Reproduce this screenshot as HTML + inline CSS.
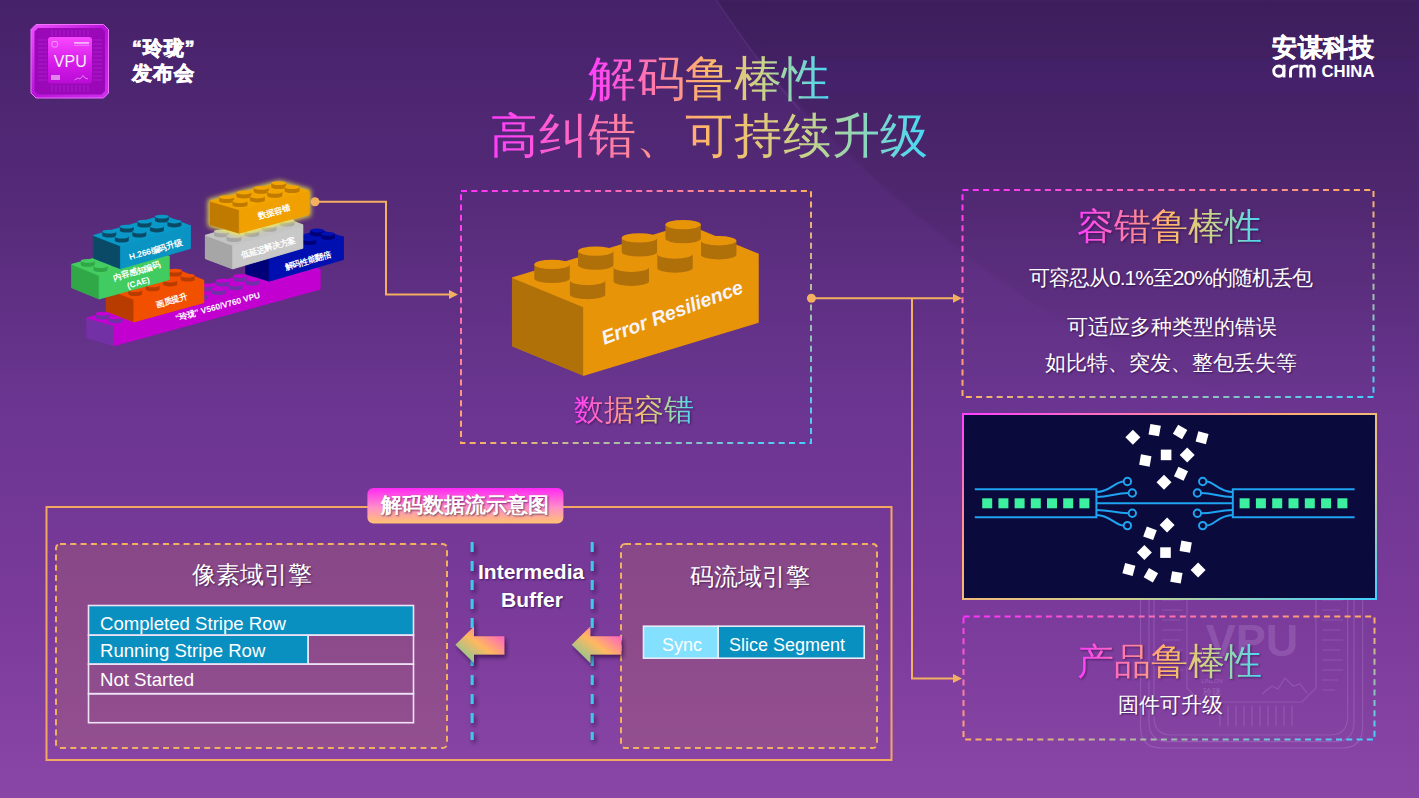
<!DOCTYPE html>
<html><head><meta charset="utf-8">
<style>
*{margin:0;padding:0;box-sizing:border-box}
html,body{width:1419px;height:798px;overflow:hidden}
body{font-family:"Liberation Sans",sans-serif;position:relative;background:linear-gradient(180deg,#46226a 0%,#552a78 25%,#6a3590 50%,#7a3a9a 75%,#8a46a6 100%);color:#fff}
.abs{position:absolute}
.grad{background:linear-gradient(90deg,#ff3cff 0%,#ff80a0 30%,#ffb868 50%,#c8d488 72%,#44d8f8 100%);-webkit-background-clip:text;background-clip:text;color:transparent}
.t{white-space:nowrap;line-height:1}
.sh{text-shadow:1px 1px 2px rgba(30,0,50,.6)}
.gs{filter:drop-shadow(1px 1px 1px rgba(30,0,50,.5))}
</style></head>
<body>
<!-- bg shading -->
<svg class="abs" style="left:0;top:0" width="1419" height="798">
<defs>
<linearGradient id="dk" gradientUnits="userSpaceOnUse" x1="0" y1="0" x2="0" y2="420"><stop offset="0" stop-color="#100020" stop-opacity="0.13"/><stop offset="1" stop-color="#100020" stop-opacity="0"/></linearGradient>
<filter id="bb"><feGaussianBlur stdDeviation="1.5"/></filter>
</defs>
<path d="M716,0 C760,70 850,170 1000,280 C1150,390 1300,420 1419,420 V0 Z" fill="url(#dk)" filter="url(#bb)"/>
<path d="M716,0 C740,35 760,65 800,110" fill="none" stroke="#b080d0" stroke-opacity="0.1" stroke-width="2"/>
</svg>
<!-- faint watermark -->
<svg class="abs" style="left:0;top:0" width="1419" height="798">
<g fill="none" stroke="#d8b8f0" stroke-opacity="0.2" stroke-width="1.2">
<path d="M1140.5,560 V727 Q1140.5,748 1161.5,748 H1341.6 Q1362.6,748 1362.6,727 V560"/>
<path d="M1149,560 V722 Q1149,741.6 1168.6,741.6 H1334.4 Q1354,741.6 1354,722 V560"/>
<path d="M1154,560 V717 Q1154,735 1172,735 H1329.6 Q1347.6,735 1347.6,717 V560"/>
<path d="M1187,560 V688 L1201,702 H1302 L1316,688 V560"/>
<path d="M1162,600 H1183 M1162,610 H1183 M1162,620 H1180 M1162,630 H1183 M1162,640 H1180 M1162,650 H1183 M1162,660 H1180 M1162,670 H1183"/>
<path d="M1322,600 H1343 M1322,610 H1340 M1322,620 H1343 M1322,630 H1340 M1322,640 H1343 M1322,650 H1340 M1322,660 H1343 M1322,670 H1343 M1322,680 H1338 M1322,690 H1335"/>
<path d="M1220,706 V726 M1228,706 V726 M1236,706 V726 M1244,706 V726 M1252,706 V726 M1260,706 V726 M1268,706 V726 M1276,706 V726 M1284,706 V726 M1292,706 V726"/>
<path d="M1262,694 L1272,686 L1278,689 L1285,678 L1293,686 L1300,684 L1307,693"/>
</g>
<text x="1252" y="656" text-anchor="middle" font-size="45" font-weight="bold" fill="#e0c0f8" fill-opacity="0.2" font-family="Liberation Sans, sans-serif">VPU</text>
<text x="1212" y="683" text-anchor="middle" font-size="6" fill="#e0c0f8" fill-opacity="0.3" font-family="Liberation Sans, sans-serif">LINLON</text>
<text x="1212" y="695" text-anchor="middle" font-size="9" fill="#e0c0f8" fill-opacity="0.3">玲珑</text>
</svg>

<svg class="abs" style="left:0;top:0" width="420" height="380" viewBox="0 0 420 380" font-family="Liberation Sans, sans-serif"><defs><filter id="glow" x="-30%" y="-30%" width="160%" height="160%"><feGaussianBlur stdDeviation="2.5"/></filter></defs><g><polygon points="86.7,317.9 292.7,261.4 320.2,269.3 320.2,289.3 114.2,345.8 86.7,337.9" fill="#c200d0"/><polygon points="86.7,317.9 114.2,325.8 114.2,345.8 86.7,337.9" fill="#7232a6" stroke="#7232a6" stroke-width="0.6" stroke-linejoin="round"/><polygon points="114.2,325.8 320.2,269.3 320.2,289.3 114.2,345.8" fill="#c200d0" stroke="#c200d0" stroke-width="0.6" stroke-linejoin="round"/><polygon points="86.7,317.9 114.2,325.8 320.2,269.3 292.7,261.4" fill="#c400d2" stroke="#c400d2" stroke-width="0.6" stroke-linejoin="round"/><path d="M284.5,265.9 A7,1.9 0 0 0 298.5,265.9 L298.5,261.9 L284.5,261.9 Z" fill="#7030a8"/><ellipse cx="291.5" cy="261.9" rx="7" ry="1.9" fill="#c400d2"/><path d="M297.2,269.5 A7,1.9 0 0 0 311.2,269.5 L311.2,265.5 L297.2,265.5 Z" fill="#7030a8"/><ellipse cx="304.2" cy="265.5" rx="7" ry="1.9" fill="#c400d2"/><path d="M267.4,270.6 A7,1.9 0 0 0 281.4,270.6 L281.4,266.6 L267.4,266.6 Z" fill="#7030a8"/><ellipse cx="274.4" cy="266.6" rx="7" ry="1.9" fill="#c400d2"/><path d="M280,274.2 A7,1.9 0 0 0 294,274.2 L294,270.2 L280,270.2 Z" fill="#7030a8"/><ellipse cx="287" cy="270.2" rx="7" ry="1.9" fill="#c400d2"/><path d="M250.2,275.3 A7,1.9 0 0 0 264.2,275.3 L264.2,271.3 L250.2,271.3 Z" fill="#7030a8"/><ellipse cx="257.2" cy="271.3" rx="7" ry="1.9" fill="#c400d2"/><path d="M262.9,278.9 A7,1.9 0 0 0 276.9,278.9 L276.9,274.9 L262.9,274.9 Z" fill="#7030a8"/><ellipse cx="269.9" cy="274.9" rx="7" ry="1.9" fill="#c400d2"/><path d="M233,280 A7,1.9 0 0 0 247,280 L247,276 L233,276 Z" fill="#7030a8"/><ellipse cx="240" cy="276" rx="7" ry="1.9" fill="#c400d2"/><path d="M245.7,283.6 A7,1.9 0 0 0 259.7,283.6 L259.7,279.6 L245.7,279.6 Z" fill="#7030a8"/><ellipse cx="252.7" cy="279.6" rx="7" ry="1.9" fill="#c400d2"/><path d="M215.9,284.7 A7,1.9 0 0 0 229.9,284.7 L229.9,280.7 L215.9,280.7 Z" fill="#7030a8"/><ellipse cx="222.9" cy="280.7" rx="7" ry="1.9" fill="#c400d2"/><path d="M228.5,288.4 A7,1.9 0 0 0 242.5,288.4 L242.5,284.4 L228.5,284.4 Z" fill="#7030a8"/><ellipse cx="235.5" cy="284.4" rx="7" ry="1.9" fill="#c400d2"/><path d="M198.7,289.4 A7,1.9 0 0 0 212.7,289.4 L212.7,285.4 L198.7,285.4 Z" fill="#7030a8"/><ellipse cx="205.7" cy="285.4" rx="7" ry="1.9" fill="#c400d2"/><path d="M211.4,293.1 A7,1.9 0 0 0 225.4,293.1 L225.4,289.1 L211.4,289.1 Z" fill="#7030a8"/><ellipse cx="218.4" cy="289.1" rx="7" ry="1.9" fill="#c400d2"/><path d="M181.5,294.1 A7,1.9 0 0 0 195.5,294.1 L195.5,290.1 L181.5,290.1 Z" fill="#7030a8"/><ellipse cx="188.5" cy="290.1" rx="7" ry="1.9" fill="#c400d2"/><path d="M194.2,297.8 A7,1.9 0 0 0 208.2,297.8 L208.2,293.8 L194.2,293.8 Z" fill="#7030a8"/><ellipse cx="201.2" cy="293.8" rx="7" ry="1.9" fill="#c400d2"/><path d="M164.4,298.8 A7,1.9 0 0 0 178.4,298.8 L178.4,294.8 L164.4,294.8 Z" fill="#7030a8"/><ellipse cx="171.4" cy="294.8" rx="7" ry="1.9" fill="#c400d2"/><path d="M177,302.5 A7,1.9 0 0 0 191,302.5 L191,298.5 L177,298.5 Z" fill="#7030a8"/><ellipse cx="184" cy="298.5" rx="7" ry="1.9" fill="#c400d2"/><path d="M147.2,303.6 A7,1.9 0 0 0 161.2,303.6 L161.2,299.6 L147.2,299.6 Z" fill="#7030a8"/><ellipse cx="154.2" cy="299.6" rx="7" ry="1.9" fill="#c400d2"/><path d="M159.9,307.2 A7,1.9 0 0 0 173.9,307.2 L173.9,303.2 L159.9,303.2 Z" fill="#7030a8"/><ellipse cx="166.9" cy="303.2" rx="7" ry="1.9" fill="#c400d2"/><path d="M130,308.3 A7,1.9 0 0 0 144,308.3 L144,304.3 L130,304.3 Z" fill="#7030a8"/><ellipse cx="137" cy="304.3" rx="7" ry="1.9" fill="#c400d2"/><path d="M142.7,311.9 A7,1.9 0 0 0 156.7,311.9 L156.7,307.9 L142.7,307.9 Z" fill="#7030a8"/><ellipse cx="149.7" cy="307.9" rx="7" ry="1.9" fill="#c400d2"/><path d="M112.9,313 A7,1.9 0 0 0 126.9,313 L126.9,309 L112.9,309 Z" fill="#7030a8"/><ellipse cx="119.9" cy="309" rx="7" ry="1.9" fill="#c400d2"/><path d="M125.5,316.6 A7,1.9 0 0 0 139.5,316.6 L139.5,312.6 L125.5,312.6 Z" fill="#7030a8"/><ellipse cx="132.5" cy="312.6" rx="7" ry="1.9" fill="#c400d2"/><path d="M95.7,317.7 A7,1.9 0 0 0 109.7,317.7 L109.7,313.7 L95.7,313.7 Z" fill="#7030a8"/><ellipse cx="102.7" cy="313.7" rx="7" ry="1.9" fill="#c400d2"/><path d="M108.4,321.3 A7,1.9 0 0 0 122.4,321.3 L122.4,317.3 L108.4,317.3 Z" fill="#7030a8"/><ellipse cx="115.4" cy="317.3" rx="7" ry="1.9" fill="#c400d2"/></g><text x="217.6" y="306.5" transform="rotate(-15.5 217.6 306.5)" text-anchor="middle" dominant-baseline="central" font-size="8.4" font-weight="bold" font-style="normal" fill="#fff" >“玲珑” V560/V760 VPU</text><g><polygon points="245.7,251.5 320,229.9 343.5,237 343.5,259.6 269.2,281.2 245.7,274.1" fill="#0010b0"/><polygon points="245.7,251.5 269.2,258.6 269.2,281.2 245.7,274.1" fill="#000078" stroke="#000078" stroke-width="0.6" stroke-linejoin="round"/><polygon points="269.2,258.6 343.5,237 343.5,259.6 269.2,281.2" fill="#0010b0" stroke="#0010b0" stroke-width="0.6" stroke-linejoin="round"/><polygon points="245.7,251.5 269.2,258.6 343.5,237 320,229.9" fill="#0010b4" stroke="#0010b4" stroke-width="0.6" stroke-linejoin="round"/><path d="M310.1,234.5 A7,1.9 0 0 0 324.1,234.5 L324.1,230.5 L310.1,230.5 Z" fill="#000078"/><ellipse cx="317.1" cy="230.5" rx="7" ry="1.9" fill="#0010b4"/><path d="M320.9,237.8 A7,1.9 0 0 0 334.9,237.8 L334.9,233.8 L320.9,233.8 Z" fill="#000078"/><ellipse cx="327.9" cy="233.8" rx="7" ry="1.9" fill="#0010b4"/><path d="M291.5,239.9 A7,1.9 0 0 0 305.5,239.9 L305.5,235.9 L291.5,235.9 Z" fill="#000078"/><ellipse cx="298.5" cy="235.9" rx="7" ry="1.9" fill="#0010b4"/><path d="M302.3,243.2 A7,1.9 0 0 0 316.3,243.2 L316.3,239.2 L302.3,239.2 Z" fill="#000078"/><ellipse cx="309.3" cy="239.2" rx="7" ry="1.9" fill="#0010b4"/><path d="M272.9,245.3 A7,1.9 0 0 0 286.9,245.3 L286.9,241.3 L272.9,241.3 Z" fill="#000078"/><ellipse cx="279.9" cy="241.3" rx="7" ry="1.9" fill="#0010b4"/><path d="M283.7,248.6 A7,1.9 0 0 0 297.7,248.6 L297.7,244.6 L283.7,244.6 Z" fill="#000078"/><ellipse cx="290.7" cy="244.6" rx="7" ry="1.9" fill="#0010b4"/><path d="M254.3,250.7 A7,1.9 0 0 0 268.3,250.7 L268.3,246.7 L254.3,246.7 Z" fill="#000078"/><ellipse cx="261.3" cy="246.7" rx="7" ry="1.9" fill="#0010b4"/><path d="M265.1,254 A7,1.9 0 0 0 279.1,254 L279.1,250 L265.1,250 Z" fill="#000078"/><ellipse cx="272.1" cy="250" rx="7" ry="1.9" fill="#0010b4"/></g><text x="307.8" y="260.5" transform="rotate(-16 307.8 260.5)" text-anchor="middle" dominant-baseline="central" font-size="8.4" font-weight="bold" font-style="normal" fill="#fff" >解码性能翻倍</text><g><polygon points="205.3,235.2 275.7,214.5 303,224.8 303,248.3 232.6,269 205.3,258.7" fill="#c8c8c8"/><polygon points="205.3,235.2 232.6,245.5 232.6,269 205.3,258.7" fill="#a6a6a6" stroke="#a6a6a6" stroke-width="0.6" stroke-linejoin="round"/><polygon points="232.6,245.5 303,224.8 303,248.3 232.6,269" fill="#c8c8c8" stroke="#c8c8c8" stroke-width="0.6" stroke-linejoin="round"/><polygon points="205.3,235.2 232.6,245.5 303,224.8 275.7,214.5" fill="#c4c4c4" stroke="#c4c4c4" stroke-width="0.6" stroke-linejoin="round"/><path d="M266.8,219.9 A7.5,1.9 0 0 0 281.8,219.9 L281.8,215.9 L266.8,215.9 Z" fill="#a6a6a6"/><ellipse cx="274.3" cy="215.9" rx="7.5" ry="1.9" fill="#c4c4c4"/><path d="M279.3,224.6 A7.5,1.9 0 0 0 294.3,224.6 L294.3,220.6 L279.3,220.6 Z" fill="#a6a6a6"/><ellipse cx="286.8" cy="220.6" rx="7.5" ry="1.9" fill="#c4c4c4"/><path d="M249.2,225 A7.5,1.9 0 0 0 264.2,225 L264.2,221 L249.2,221 Z" fill="#a6a6a6"/><ellipse cx="256.7" cy="221" rx="7.5" ry="1.9" fill="#c4c4c4"/><path d="M261.7,229.8 A7.5,1.9 0 0 0 276.7,229.8 L276.7,225.8 L261.7,225.8 Z" fill="#a6a6a6"/><ellipse cx="269.2" cy="225.8" rx="7.5" ry="1.9" fill="#c4c4c4"/><path d="M231.6,230.2 A7.5,1.9 0 0 0 246.6,230.2 L246.6,226.2 L231.6,226.2 Z" fill="#a6a6a6"/><ellipse cx="239.1" cy="226.2" rx="7.5" ry="1.9" fill="#c4c4c4"/><path d="M244.1,235 A7.5,1.9 0 0 0 259.1,235 L259.1,231 L244.1,231 Z" fill="#a6a6a6"/><ellipse cx="251.6" cy="231" rx="7.5" ry="1.9" fill="#c4c4c4"/><path d="M214,235.4 A7.5,1.9 0 0 0 229,235.4 L229,231.4 L214,231.4 Z" fill="#a6a6a6"/><ellipse cx="221.5" cy="231.4" rx="7.5" ry="1.9" fill="#c4c4c4"/><path d="M226.5,240.1 A7.5,1.9 0 0 0 241.5,240.1 L241.5,236.1 L226.5,236.1 Z" fill="#a6a6a6"/><ellipse cx="234" cy="236.1" rx="7.5" ry="1.9" fill="#c4c4c4"/></g><text x="268.3" y="247.4" transform="rotate(-16 268.3 247.4)" text-anchor="middle" dominant-baseline="central" font-size="8.4" font-weight="bold" font-style="normal" fill="#fff" >低延迟解决方案</text><polygon points="210,201.3 279.5,182.5 308.7,191 308.7,214.5 239.2,233.3 210,224.8" fill="#f8f040" stroke="#f8f040" stroke-width="4" filter="url(#glow)" opacity="0.9"/><g><polygon points="210,201.3 279.5,182.5 308.7,191 308.7,214.5 239.2,233.3 210,224.8" fill="#f0a000"/><polygon points="210,201.3 239.2,209.8 239.2,233.3 210,224.8" fill="#c07a00" stroke="#c07a00" stroke-width="0.6" stroke-linejoin="round"/><polygon points="239.2,209.8 308.7,191 308.7,214.5 239.2,233.3" fill="#f0a000" stroke="#f0a000" stroke-width="0.6" stroke-linejoin="round"/><polygon points="210,201.3 239.2,209.8 308.7,191 279.5,182.5" fill="#f2a400" stroke="#f2a400" stroke-width="0.6" stroke-linejoin="round"/><path d="M271.2,187.1 A7.5,1.9 0 0 0 286.2,187.1 L286.2,183.1 L271.2,183.1 Z" fill="#c07a00"/><ellipse cx="278.7" cy="183.1" rx="7.5" ry="1.9" fill="#f2a400"/><path d="M284.6,191.1 A7.5,1.9 0 0 0 299.6,191.1 L299.6,187.1 L284.6,187.1 Z" fill="#c07a00"/><ellipse cx="292.1" cy="187.1" rx="7.5" ry="1.9" fill="#f2a400"/><path d="M253.8,191.8 A7.5,1.9 0 0 0 268.8,191.8 L268.8,187.8 L253.8,187.8 Z" fill="#c07a00"/><ellipse cx="261.3" cy="187.8" rx="7.5" ry="1.9" fill="#f2a400"/><path d="M267.3,195.8 A7.5,1.9 0 0 0 282.3,195.8 L282.3,191.8 L267.3,191.8 Z" fill="#c07a00"/><ellipse cx="274.8" cy="191.8" rx="7.5" ry="1.9" fill="#f2a400"/><path d="M236.4,196.5 A7.5,1.9 0 0 0 251.4,196.5 L251.4,192.5 L236.4,192.5 Z" fill="#c07a00"/><ellipse cx="243.9" cy="192.5" rx="7.5" ry="1.9" fill="#f2a400"/><path d="M249.9,200.5 A7.5,1.9 0 0 0 264.9,200.5 L264.9,196.5 L249.9,196.5 Z" fill="#c07a00"/><ellipse cx="257.4" cy="196.5" rx="7.5" ry="1.9" fill="#f2a400"/><path d="M219.1,201.2 A7.5,1.9 0 0 0 234.1,201.2 L234.1,197.2 L219.1,197.2 Z" fill="#c07a00"/><ellipse cx="226.6" cy="197.2" rx="7.5" ry="1.9" fill="#f2a400"/><path d="M232.5,205.2 A7.5,1.9 0 0 0 247.5,205.2 L247.5,201.2 L232.5,201.2 Z" fill="#c07a00"/><ellipse cx="240" cy="201.2" rx="7.5" ry="1.9" fill="#f2a400"/></g><text x="274" y="211.7" transform="rotate(-16 274 211.7)" text-anchor="middle" dominant-baseline="central" font-size="8.4" font-weight="bold" font-style="normal" fill="#fff" >数据容错</text><g><polygon points="106.1,288.6 176.2,269.3 203.9,280.2 203.9,302.7 133.8,322 106.1,311.1" fill="#f05000"/><polygon points="106.1,288.6 133.8,299.5 133.8,322 106.1,311.1" fill="#b83c00" stroke="#b83c00" stroke-width="0.6" stroke-linejoin="round"/><polygon points="133.8,299.5 203.9,280.2 203.9,302.7 133.8,322" fill="#f05000" stroke="#f05000" stroke-width="0.6" stroke-linejoin="round"/><polygon points="106.1,288.6 133.8,299.5 203.9,280.2 176.2,269.3" fill="#f25000" stroke="#f25000" stroke-width="0.6" stroke-linejoin="round"/><path d="M167.9,274.7 A7,1.9 0 0 0 181.9,274.7 L181.9,270.7 L167.9,270.7 Z" fill="#b83c00"/><ellipse cx="174.9" cy="270.7" rx="7" ry="1.9" fill="#f25000"/><path d="M150.4,279.5 A7,1.9 0 0 0 164.4,279.5 L164.4,275.5 L150.4,275.5 Z" fill="#b83c00"/><ellipse cx="157.4" cy="275.5" rx="7" ry="1.9" fill="#f25000"/><path d="M180.7,279.7 A7,1.9 0 0 0 194.7,279.7 L194.7,275.7 L180.7,275.7 Z" fill="#b83c00"/><ellipse cx="187.7" cy="275.7" rx="7" ry="1.9" fill="#f25000"/><path d="M132.9,284.3 A7,1.9 0 0 0 146.9,284.3 L146.9,280.3 L132.9,280.3 Z" fill="#b83c00"/><ellipse cx="139.9" cy="280.3" rx="7" ry="1.9" fill="#f25000"/><path d="M163.1,284.5 A7,1.9 0 0 0 177.1,284.5 L177.1,280.5 L163.1,280.5 Z" fill="#b83c00"/><ellipse cx="170.1" cy="280.5" rx="7" ry="1.9" fill="#f25000"/><path d="M115.3,289.1 A7,1.9 0 0 0 129.3,289.1 L129.3,285.1 L115.3,285.1 Z" fill="#b83c00"/><ellipse cx="122.3" cy="285.1" rx="7" ry="1.9" fill="#f25000"/><path d="M145.6,289.3 A7,1.9 0 0 0 159.6,289.3 L159.6,285.3 L145.6,285.3 Z" fill="#b83c00"/><ellipse cx="152.6" cy="285.3" rx="7" ry="1.9" fill="#f25000"/><path d="M128.1,294.1 A7,1.9 0 0 0 142.1,294.1 L142.1,290.1 L128.1,290.1 Z" fill="#b83c00"/><ellipse cx="135.1" cy="290.1" rx="7" ry="1.9" fill="#f25000"/></g><text x="171.5" y="300.4" transform="rotate(-16 171.5 300.4)" text-anchor="middle" dominant-baseline="central" font-size="8.4" font-weight="bold" font-style="normal" fill="#fff" >画质提升</text><g><polygon points="71.6,264.3 141.8,244.9 169.3,256.2 169.3,279.7 99.1,299.1 71.6,287.8" fill="#40cc60"/><polygon points="71.6,264.3 99.1,275.6 99.1,299.1 71.6,287.8" fill="#30a848" stroke="#30a848" stroke-width="0.6" stroke-linejoin="round"/><polygon points="99.1,275.6 169.3,256.2 169.3,279.7 99.1,299.1" fill="#40cc60" stroke="#40cc60" stroke-width="0.6" stroke-linejoin="round"/><polygon points="71.6,264.3 99.1,275.6 169.3,256.2 141.8,244.9" fill="#44cc60" stroke="#44cc60" stroke-width="0.6" stroke-linejoin="round"/><path d="M133.5,250.4 A7,1.9 0 0 0 147.5,250.4 L147.5,246.4 L133.5,246.4 Z" fill="#30a848"/><ellipse cx="140.5" cy="246.4" rx="7" ry="1.9" fill="#44cc60"/><path d="M115.9,255.2 A7,1.9 0 0 0 129.9,255.2 L129.9,251.2 L115.9,251.2 Z" fill="#30a848"/><ellipse cx="122.9" cy="251.2" rx="7" ry="1.9" fill="#44cc60"/><path d="M146.1,255.6 A7,1.9 0 0 0 160.1,255.6 L160.1,251.6 L146.1,251.6 Z" fill="#30a848"/><ellipse cx="153.1" cy="251.6" rx="7" ry="1.9" fill="#44cc60"/><path d="M98.3,260.1 A7,1.9 0 0 0 112.3,260.1 L112.3,256.1 L98.3,256.1 Z" fill="#30a848"/><ellipse cx="105.3" cy="256.1" rx="7" ry="1.9" fill="#44cc60"/><path d="M128.6,260.4 A7,1.9 0 0 0 142.6,260.4 L142.6,256.4 L128.6,256.4 Z" fill="#30a848"/><ellipse cx="135.6" cy="256.4" rx="7" ry="1.9" fill="#44cc60"/><path d="M80.8,264.9 A7,1.9 0 0 0 94.8,264.9 L94.8,260.9 L80.8,260.9 Z" fill="#30a848"/><ellipse cx="87.8" cy="260.9" rx="7" ry="1.9" fill="#44cc60"/><path d="M111,265.3 A7,1.9 0 0 0 125,265.3 L125,261.3 L111,261.3 Z" fill="#30a848"/><ellipse cx="118" cy="261.3" rx="7" ry="1.9" fill="#44cc60"/><path d="M93.5,270.1 A7,1.9 0 0 0 107.5,270.1 L107.5,266.1 L93.5,266.1 Z" fill="#30a848"/><ellipse cx="100.5" cy="266.1" rx="7" ry="1.9" fill="#44cc60"/></g><text x="136.7" y="271" transform="rotate(-16 136.7 271)" text-anchor="middle" dominant-baseline="central" font-size="8.4" font-weight="bold" font-style="normal" fill="#fff" >内容感知编码</text><text x="138.3" y="282.6" transform="rotate(-16 138.3 282.6)" text-anchor="middle" dominant-baseline="central" font-size="8.4" font-weight="bold" font-style="normal" fill="#fff" >(CAE)</text><g><polygon points="93.2,235.4 163.3,215.2 190.5,225.8 190.5,248.6 120.4,268.8 93.2,258.2" fill="#0a94c4"/><polygon points="93.2,235.4 120.4,246 120.4,268.8 93.2,258.2" fill="#0a4a66" stroke="#0a4a66" stroke-width="0.6" stroke-linejoin="round"/><polygon points="120.4,246 190.5,225.8 190.5,248.6 120.4,268.8" fill="#0a94c4" stroke="#0a94c4" stroke-width="0.6" stroke-linejoin="round"/><polygon points="93.2,235.4 120.4,246 190.5,225.8 163.3,215.2" fill="#0a98c8" stroke="#0a98c8" stroke-width="0.6" stroke-linejoin="round"/><path d="M154.9,220.6 A7,1.9 0 0 0 168.9,220.6 L168.9,216.6 L154.9,216.6 Z" fill="#0a4a66"/><ellipse cx="161.9" cy="216.6" rx="7" ry="1.9" fill="#0a98c8"/><path d="M167.4,225.5 A7,1.9 0 0 0 181.4,225.5 L181.4,221.5 L167.4,221.5 Z" fill="#0a4a66"/><ellipse cx="174.4" cy="221.5" rx="7" ry="1.9" fill="#0a98c8"/><path d="M137.4,225.6 A7,1.9 0 0 0 151.4,225.6 L151.4,221.6 L137.4,221.6 Z" fill="#0a4a66"/><ellipse cx="144.4" cy="221.6" rx="7" ry="1.9" fill="#0a98c8"/><path d="M149.9,230.5 A7,1.9 0 0 0 163.9,230.5 L163.9,226.5 L149.9,226.5 Z" fill="#0a4a66"/><ellipse cx="156.9" cy="226.5" rx="7" ry="1.9" fill="#0a98c8"/><path d="M119.8,230.7 A7,1.9 0 0 0 133.8,230.7 L133.8,226.7 L119.8,226.7 Z" fill="#0a4a66"/><ellipse cx="126.8" cy="226.7" rx="7" ry="1.9" fill="#0a98c8"/><path d="M132.3,235.6 A7,1.9 0 0 0 146.3,235.6 L146.3,231.6 L132.3,231.6 Z" fill="#0a4a66"/><ellipse cx="139.3" cy="231.6" rx="7" ry="1.9" fill="#0a98c8"/><path d="M102.3,235.7 A7,1.9 0 0 0 116.3,235.7 L116.3,231.7 L102.3,231.7 Z" fill="#0a4a66"/><ellipse cx="109.3" cy="231.7" rx="7" ry="1.9" fill="#0a98c8"/><path d="M114.8,240.6 A7,1.9 0 0 0 128.8,240.6 L128.8,236.6 L114.8,236.6 Z" fill="#0a4a66"/><ellipse cx="121.8" cy="236.6" rx="7" ry="1.9" fill="#0a98c8"/></g><text x="155.4" y="249.5" transform="rotate(-16 155.4 249.5)" text-anchor="middle" dominant-baseline="central" font-size="8.4" font-weight="bold" font-style="normal" fill="#fff" >H.266编码升级</text></svg>
<svg class="abs" style="left:0;top:0" width="820" height="400" viewBox="0 0 820 400" font-family="Liberation Sans, sans-serif"><g><polygon points="512.4,277.7 687.2,224.7 758.3,254 758.3,322.5 583.5,375.5 512.4,346.2" fill="#ef9a00"/><polygon points="512.4,277.7 583.5,307 583.5,375.5 512.4,346.2" fill="#b57400" stroke="#b57400" stroke-width="0.6" stroke-linejoin="round"/><polygon points="583.5,307 758.3,254 758.3,322.5 583.5,375.5" fill="#ef9a00" stroke="#ef9a00" stroke-width="0.6" stroke-linejoin="round"/><polygon points="512.4,277.7 583.5,307 758.3,254 687.2,224.7" fill="#ef9a00" stroke="#ef9a00" stroke-width="0.6" stroke-linejoin="round"/><path d="M665.4,238.6 A17.7,4.7 0 0 0 700.8,238.6 L700.8,224.6 L665.4,224.6 Z" fill="#b37200"/><ellipse cx="683.1" cy="224.6" rx="17.7" ry="4.7" fill="#ef9a00"/><path d="M621.7,251.9 A17.7,4.7 0 0 0 657.1,251.9 L657.1,237.9 L621.7,237.9 Z" fill="#b37200"/><ellipse cx="639.4" cy="237.9" rx="17.7" ry="4.7" fill="#ef9a00"/><path d="M701,254.8 A17.7,4.7 0 0 0 736.4,254.8 L736.4,240.8 L701,240.8 Z" fill="#b37200"/><ellipse cx="718.7" cy="240.8" rx="17.7" ry="4.7" fill="#ef9a00"/><path d="M578,265.1 A17.7,4.7 0 0 0 613.4,265.1 L613.4,251.1 L578,251.1 Z" fill="#b37200"/><ellipse cx="595.7" cy="251.1" rx="17.7" ry="4.7" fill="#ef9a00"/><path d="M657.3,268 A17.7,4.7 0 0 0 692.7,268 L692.7,254 L657.3,254 Z" fill="#b37200"/><ellipse cx="675" cy="254" rx="17.7" ry="4.7" fill="#ef9a00"/><path d="M534.3,278.4 A17.7,4.7 0 0 0 569.7,278.4 L569.7,264.4 L534.3,264.4 Z" fill="#b37200"/><ellipse cx="552" cy="264.4" rx="17.7" ry="4.7" fill="#ef9a00"/><path d="M613.6,281.3 A17.7,4.7 0 0 0 649,281.3 L649,267.3 L613.6,267.3 Z" fill="#b37200"/><ellipse cx="631.3" cy="267.3" rx="17.7" ry="4.7" fill="#ef9a00"/><path d="M569.9,294.5 A17.7,4.7 0 0 0 605.3,294.5 L605.3,280.5 L569.9,280.5 Z" fill="#b37200"/><ellipse cx="587.6" cy="280.5" rx="17.7" ry="4.7" fill="#ef9a00"/></g><text x="672" y="312" transform="rotate(-20.5 672 312)" text-anchor="middle" dominant-baseline="central" font-size="19.5" font-weight="bold" font-style="italic" fill="#fff" >Error Resilience</text></svg>
<svg class="abs" style="left:962px;top:413px" width="415" height="187" viewBox="962 413 415 187"><defs><linearGradient id="nb" x1="0" y1="0" x2="1" y2="1"><stop offset="0" stop-color="#ff40ff"/><stop offset="0.4" stop-color="#ffb070"/><stop offset="0.7" stop-color="#d0d090"/><stop offset="1" stop-color="#40d0ff"/></linearGradient></defs><rect x="963" y="414" width="413" height="185" fill="#0b0a3c" stroke="url(#nb)" stroke-width="2"/><g stroke="#1ea4f0" stroke-width="2" fill="none"><path d="M974.8,489.3 H1096.4 V517.2 H974.8"/><path d="M1354.6,489.3 H1232.8 V517.2 H1354.6"/><path d="M1096.4,503.3 H1232.8"/><path d="M1096.4,492 C1110,492 1115,481.5 1123.7,481.5"/><circle cx="1127.4" cy="481.5" r="3.7"/><path d="M1096.4,497 C1110,497 1115,493 1128.6,493"/><circle cx="1132.3" cy="493" r="3.7"/><path d="M1096.4,510 C1110,510 1115,513.2 1128.6,513.2"/><circle cx="1132.3" cy="513.2" r="3.7"/><path d="M1096.4,515 C1110,515 1115,525.6 1123.7,525.6"/><circle cx="1127.4" cy="525.6" r="3.7"/><path d="M1232.8,492 C1219,492 1214,481.5 1206.4,481.5"/><circle cx="1202.7" cy="481.5" r="3.7"/><path d="M1232.8,497 C1219,497 1214,493 1201.1000000000001,493"/><circle cx="1197.4" cy="493" r="3.7"/><path d="M1232.8,510 C1219,510 1214,513.2 1201.1000000000001,513.2"/><circle cx="1197.4" cy="513.2" r="3.7"/><path d="M1232.8,515 C1219,515 1214,525.6 1206.4,525.6"/><circle cx="1202.7" cy="525.6" r="3.7"/></g><rect x="982.2" y="498.3" width="10" height="10" fill="#3cf0a0"/><rect x="998.4" y="498.3" width="10" height="10" fill="#3cf0a0"/><rect x="1014.6" y="498.3" width="10" height="10" fill="#3cf0a0"/><rect x="1030.8" y="498.3" width="10" height="10" fill="#3cf0a0"/><rect x="1047" y="498.3" width="10" height="10" fill="#3cf0a0"/><rect x="1063.2" y="498.3" width="10" height="10" fill="#3cf0a0"/><rect x="1079.4" y="498.3" width="10" height="10" fill="#3cf0a0"/><rect x="1239.6" y="498.3" width="10" height="10" fill="#3cf0a0"/><rect x="1255.9" y="498.3" width="10" height="10" fill="#3cf0a0"/><rect x="1272.2" y="498.3" width="10" height="10" fill="#3cf0a0"/><rect x="1288.5" y="498.3" width="10" height="10" fill="#3cf0a0"/><rect x="1304.8" y="498.3" width="10" height="10" fill="#3cf0a0"/><rect x="1321.1" y="498.3" width="10" height="10" fill="#3cf0a0"/><rect x="1337.4" y="498.3" width="10" height="10" fill="#3cf0a0"/><rect x="1127.6" y="431.9" width="10.6" height="10.6" fill="#fff" transform="rotate(45 1132.9 437.2)"/><rect x="1149.4" y="424.8" width="10.6" height="10.6" fill="#fff" transform="rotate(10 1154.7 430.1)"/><rect x="1174.8" y="426.6" width="10.6" height="10.6" fill="#fff" transform="rotate(30 1180.1 431.9)"/><rect x="1196.8" y="432.5" width="10.6" height="10.6" fill="#fff" transform="rotate(15 1202.1 437.8)"/><rect x="1140" y="455.2" width="10.6" height="10.6" fill="#fff" transform="rotate(10 1145.3 460.5)"/><rect x="1160.8" y="449.6" width="10.6" height="10.6" fill="#fff" transform="rotate(0 1166.1 454.9)"/><rect x="1181.9" y="449.6" width="10.6" height="10.6" fill="#fff" transform="rotate(45 1187.2 454.9)"/><rect x="1175.7" y="468.5" width="10.6" height="10.6" fill="#fff" transform="rotate(25 1181 473.8)"/><rect x="1158.7" y="476.9" width="10.6" height="10.6" fill="#fff" transform="rotate(45 1164 482.2)"/><rect x="1161.8" y="519.7" width="10.6" height="10.6" fill="#fff" transform="rotate(45 1167.1 525)"/><rect x="1144.7" y="528" width="10.6" height="10.6" fill="#fff" transform="rotate(20 1150 533.3)"/><rect x="1139.1" y="547.3" width="10.6" height="10.6" fill="#fff" transform="rotate(45 1144.4 552.6)"/><rect x="1160.2" y="547.3" width="10.6" height="10.6" fill="#fff" transform="rotate(0 1165.5 552.6)"/><rect x="1180.4" y="541.4" width="10.6" height="10.6" fill="#fff" transform="rotate(10 1185.7 546.7)"/><rect x="1123.6" y="564.3" width="10.6" height="10.6" fill="#fff" transform="rotate(15 1128.9 569.6)"/><rect x="1145.6" y="569.9" width="10.6" height="10.6" fill="#fff" transform="rotate(30 1150.9 575.2)"/><rect x="1171.1" y="572.1" width="10.6" height="10.6" fill="#fff" transform="rotate(10 1176.4 577.4)"/><rect x="1192.8" y="564.6" width="10.6" height="10.6" fill="#fff" transform="rotate(45 1198.1 569.9)"/></svg>

<!-- overlay lines / dashed boxes -->
<svg class="abs" style="left:0;top:0" width="1419" height="798">
<defs>
<linearGradient id="g1" x1="0" y1="0" x2="1" y2="1"><stop offset="0" stop-color="#ff30ff"/><stop offset="0.5" stop-color="#ffb060"/><stop offset="1" stop-color="#40d0ff"/></linearGradient>
<linearGradient id="bl" x1="0" y1="0" x2="0" y2="1"><stop offset="0" stop-color="#ff28f4"/><stop offset="0.55" stop-color="#ff90c8"/><stop offset="1" stop-color="#ffc270"/></linearGradient>
<linearGradient id="arw" x1="0" y1="1" x2="1" y2="0"><stop offset="0.1" stop-color="#80c898"/><stop offset="0.5" stop-color="#ffb860"/><stop offset="0.95" stop-color="#ff50d8"/></linearGradient>
<filter id="ds" x="-20%" y="-20%" width="150%" height="150%"><feDropShadow dx="2" dy="3" stdDeviation="2" flood-color="#200030" flood-opacity="0.6"/></filter>
</defs>
<rect x="461" y="191" width="350" height="252" fill="rgba(120,60,150,0.06)" stroke="url(#g1)" stroke-width="2" stroke-dasharray="6 4.3"/>
<rect x="962.5" y="190" width="411" height="207" fill="rgba(120,60,150,0.06)" stroke="url(#g1)" stroke-width="2" stroke-dasharray="6 4.3"/>
<rect x="963.5" y="616.5" width="411" height="123" fill="rgba(120,60,150,0.06)" stroke="url(#g1)" stroke-width="2" stroke-dasharray="6 4.3"/>

<!-- connectors -->
<g stroke="#f2b060" stroke-width="2" fill="none">
<path d="M315,201.8 H386 V294.5 H452"/>
<path d="M811,298.2 H956"/>
<path d="M912,298.2 V678.5 H956"/>
</g>
<g fill="#f2b060">
<circle cx="315" cy="201.8" r="4.5"/>
<circle cx="811.4" cy="298.2" r="4.5"/>
<path d="M458,294.5 L449,290 L449,299 Z"/>
<path d="M962,298.2 L953,293.7 L953,302.7 Z"/>
<path d="M962,678.5 L953,674 L953,683 Z"/>
</g>

<!-- bottom frame -->
<rect x="46.5" y="507" width="845" height="253" fill="none" stroke="#f2a860" stroke-width="2"/>
<rect x="56" y="544" width="391" height="204" rx="4" fill="rgba(180,110,100,0.3)" stroke="#f2b060" stroke-width="2" stroke-dasharray="6 4.3"/>
<rect x="621" y="544" width="256" height="204" rx="4" fill="rgba(180,110,100,0.3)" stroke="#f2b060" stroke-width="2" stroke-dasharray="6 4.3"/>
<g stroke="#3cc8ec" stroke-width="3" stroke-dasharray="10 9" filter="url(#ds)">
<path d="M472.1,542 V740"/>
<path d="M592.2,542 V740"/>
</g>
<g filter="url(#ds)" fill="url(#arw)">
<path d="M455.4,644.7 L474,626.5 V636.2 H504.3 V654.4 H474 V663 Z"/>
<path d="M571.7,644.7 L590.3,626.5 V636.2 H621.3 V654.4 H590.3 V663 Z"/>
</g>
<rect x="367.4" y="488" width="196" height="35.5" rx="6" fill="url(#bl)"/>

<!-- table -->
<g stroke="#eee2f6" stroke-width="1.6">
<rect x="88.5" y="605.5" width="325" height="29.7" fill="#0a90c0"/>
<rect x="88.5" y="635.2" width="219.7" height="29" fill="#0a90c0"/>
<rect x="308.2" y="635.2" width="105.3" height="29" fill="none"/>
<rect x="88.5" y="664.2" width="325" height="29.5" fill="none"/>
<rect x="88.5" y="693.7" width="325" height="29" fill="none"/>
</g>
<g stroke="#e6ecf6" stroke-width="1.6">
<rect x="643.5" y="626.2" width="74.7" height="32" fill="#84e0ff"/>
<rect x="718.2" y="626.2" width="146" height="32" fill="#0890c0"/>
</g>
</svg>

<!-- title -->
<div class="abs t grad" style="left:588px;top:55px;font-size:48px;letter-spacing:0.5px">解码鲁棒性</div>
<div class="abs t grad" style="left:490px;top:112px;font-size:48px;letter-spacing:0.8px">高纠错、可持续升级</div>

<!-- header logos -->
<svg class="abs" style="left:0;top:0" width="130" height="110" viewBox="0 0 130 110">
<defs>
<linearGradient id="chipo" x1="0" y1="0" x2="1" y2="1"><stop offset="0" stop-color="#f050ff"/><stop offset="0.5" stop-color="#b814d8"/><stop offset="1" stop-color="#d030f0"/></linearGradient>
<linearGradient id="chipi" x1="0" y1="0" x2="0" y2="1"><stop offset="0" stop-color="#f848ff"/><stop offset="0.6" stop-color="#d418e8"/><stop offset="1" stop-color="#b80cd4"/></linearGradient>
</defs>
<path d="M36,24.5 H103.5 L108.5,29.5 V93 L103.5,98 H36 L31,93 V29.5 Z" fill="url(#chipo)"/>
<path d="M38,28 H101.5 L105,31.5 V91 L101.5,94.5 H38 L34.5,91 V31.5 Z" fill="#9a08b8"/>
<g stroke="#d040f0" stroke-width="0.5" opacity="0.7">
<path d="M38,40 H47 M38,44 H47 M38,48 H47 M38,52 H47 M38,56 H47 M38,60 H47 M38,64 H47 M38,68 H47 M38,72 H47 M38,76 H47 M38,80 H47"/>
<path d="M93,40 H102 M93,44 H102 M93,48 H102 M93,52 H102 M93,56 H102 M93,60 H102 M93,64 H102 M93,68 H102 M93,72 H102 M93,76 H102 M93,80 H102"/>
<path d="M52,30 V36 M56,30 V36 M60,30 V36 M64,30 V36 M68,30 V36 M72,30 V36 M76,30 V36 M80,30 V36 M84,30 V36 M88,30 V36"/>
<path d="M52,85 V92 M56,85 V92 M60,85 V92 M64,85 V92 M68,85 V92 M72,85 V92 M76,85 V92 M80,85 V92 M84,85 V92 M88,85 V92"/>
</g>
<rect x="48" y="37" width="44" height="46.5" rx="3" fill="url(#chipi)"/>
<text x="70.3" y="66.5" text-anchor="middle" font-size="16" fill="#f4f0f8" font-family="Liberation Sans, sans-serif">VPU</text>
<rect x="52" y="41.5" width="5.5" height="5.5" rx="1.5" fill="none" stroke="#f8d0ff" stroke-width="0.6"/>
<rect x="74" y="42" width="15" height="1.8" fill="#f8d0ff" opacity="0.8"/>
<rect x="74" y="44.8" width="15" height="0.9" fill="#f8d0ff" opacity="0.5"/>
<rect x="51" y="75" width="9" height="5" fill="#f8d0ff" opacity="0.6"/>
<path d="M74.5,80 L78,78 L80,79 L83,75.5 L85,78 L88,79" fill="none" stroke="#f8d0ff" stroke-width="0.6"/>
<path d="M36,24.5 H103.5 L108.5,29.5 V93 L103.5,98 H36 L31,93 V29.5 Z" fill="none" stroke="#f070ff" stroke-width="1"/>
</svg>
<div class="abs t" style="left:132px;top:39px;font-size:19.5px;font-weight:900;letter-spacing:1px;-webkit-text-stroke:0.8px #fff">“玲珑”</div>
<div class="abs t" style="left:132px;top:64px;font-size:19.5px;font-weight:900;letter-spacing:1px;-webkit-text-stroke:0.8px #fff">发布会</div>
<div class="abs t" style="left:1272px;top:35px;font-size:25px;font-weight:bold;letter-spacing:0.7px;-webkit-text-stroke:0.5px #fff">安谋科技</div>
<svg class="abs" style="left:1260px;top:55px" width="130" height="30" viewBox="1260 55 130 30">
<g fill="none" stroke="#fff" stroke-width="2.9">
<circle cx="1278.8" cy="71.1" r="5.1"/>
<path d="M1284,64.7 V77.4"/>
<path d="M1290.5,77.4 V71 Q1290.5,66 1298.4,66"/>
<path d="M1300.8,77.4 V64.7 M1300.8,70.5 Q1300.8,65.9 1304.4,65.9 Q1308,65.9 1308,70.5 V77.4 M1308,70.5 Q1308,65.9 1311.1,65.9 Q1314.2,65.9 1314.2,70.5 V77.4"/>
</g>
<text x="1321.5" y="77.4" font-size="16.8" font-weight="bold" fill="#fff" font-family="Liberation Sans, sans-serif" textLength="53" lengthAdjust="spacingAndGlyphs">CHINA</text>
</svg>

<!-- center box text -->
<div class="abs t grad gs" style="left:574px;top:395px;font-size:30px">数据容错</div>

<!-- right top box text -->
<div class="abs t grad gs" style="left:1077px;top:208px;font-size:37px">容错鲁棒性</div>
<div class="abs t sh" style="left:1029px;top:267px;font-size:21px;letter-spacing:-1px">可容忍从0.1%至20%的随机丢包</div>
<div class="abs t sh" style="left:1067px;top:316px;font-size:21px">可适应多种类型的错误</div>
<div class="abs t sh" style="left:1045px;top:352px;font-size:21px">如比特、突发、整包丢失等</div>

<!-- right bottom box text -->
<div class="abs t grad gs" style="left:1077px;top:643px;font-size:37px">产品鲁棒性</div>
<div class="abs t sh" style="left:1118px;top:695px;font-size:20.5px">固件可升级</div>

<!-- bottom frame text -->
<div class="abs t sh" style="left:381px;top:494px;font-size:21px;font-weight:bold">解码数据流示意图</div>
<div class="abs t sh" style="left:192px;top:564px;font-size:23.6px">像素域引擎</div>
<div class="abs t sh" style="left:690px;top:566px;font-size:23.5px">码流域引擎</div>
<div class="abs t sh" style="left:478px;top:561px;font-size:21px;font-weight:bold">Intermedia</div>
<div class="abs t sh" style="left:501px;top:589px;font-size:21px;font-weight:bold">Buffer</div>
<div class="abs t" style="left:100px;top:615px;font-size:18.6px">Completed Stripe Row</div>
<div class="abs t" style="left:100px;top:642px;font-size:18.6px">Running Stripe Row</div>
<div class="abs t" style="left:100px;top:671px;font-size:18.6px">Not Started</div>
<div class="abs t" style="left:662px;top:636px;font-size:18px">Sync</div>
<div class="abs t" style="left:729px;top:636px;font-size:18px">Slice Segment</div>
</body></html>
